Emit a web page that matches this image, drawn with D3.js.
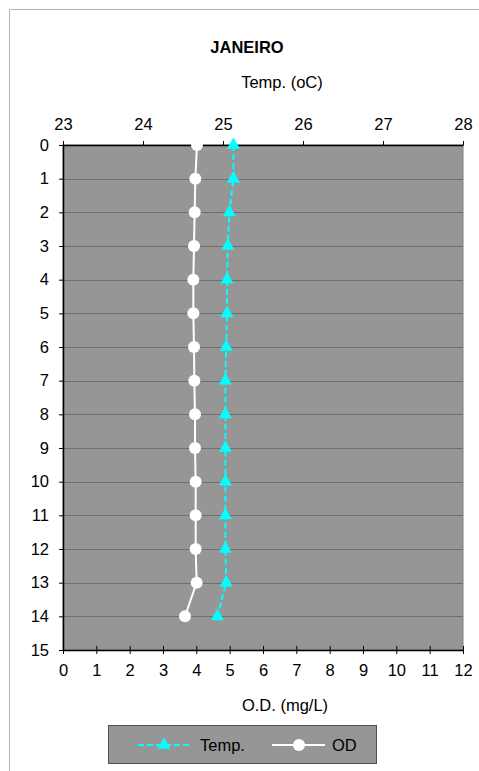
<!DOCTYPE html>
<html>
<head>
<meta charset="utf-8">
<script src="https://cdn.jsdelivr.net/npm/d3@7"></script>
<style>
  body { margin: 0; background: #fff; }
  text { font-family: "Liberation Sans", Arial, sans-serif; fill: #000; }
</style>
</head>
<body>
<div id="chart"></div>
<script>
"use strict";
// depth (m) on the vertical axis
const depths = [0, 1, 2, 3, 4, 5, 6, 7, 8, 9, 10, 11, 12, 13, 14];
const tempValues = [25.13, 25.13, 25.08, 25.06, 25.05, 25.05, 25.04, 25.03, 25.03, 25.03, 25.03, 25.03, 25.03, 25.04, 24.93];
const odValues = [4.02, 3.97, 3.95, 3.93, 3.91, 3.91, 3.93, 3.94, 3.96, 3.96, 3.98, 3.98, 3.98, 4.01, 3.66];
const tempTicks = [23, 24, 25, 26, 27, 28];
const odTicks = [0, 1, 2, 3, 4, 5, 6, 7, 8, 9, 10, 11, 12];
const depthTicks = [0, 1, 2, 3, 4, 5, 6, 7, 8, 9, 10, 11, 12, 13, 14, 15];

const width = 479, height = 771;
const plot = { left: 63, right: 463, top: 145, bottom: 650 };
const fontSize = 16.5;

const svg = d3.select("#chart")
    .append("svg")
    .attr("width", width)
    .attr("height", height);

// chart area border
svg.append("path")
    .attr("d", `M9.5,${height}V9.5H${width}`)
    .attr("fill", "none")
    .attr("stroke", "#b4b4b4");

var yScale = d3.scaleLinear().domain([0, 15]).range([plot.top, plot.bottom]);
var xTemp = d3.scaleLinear().domain([23, 28]).range([plot.left, plot.right]);
var xOd = d3.scaleLinear().domain([0, 12]).range([plot.left, plot.right]);

svg.append("rect")
    .attr("x", plot.left)
    .attr("y", plot.top)
    .attr("width", plot.right - plot.left)
    .attr("height", plot.bottom - plot.top)
    .attr("fill", "#969696")
    .attr("stroke", "#808080");

// horizontal grid
svg.append("g")
    .selectAll("line")
    .data(depthTicks.slice(1, -1))
    .enter()
    .append("line")
    .attr("x1", plot.left)
    .attr("x2", plot.right)
    .attr("y1", d => Math.round(yScale(d)) + 0.5)
    .attr("y2", d => Math.round(yScale(d)) + 0.5)
    .attr("stroke", "#6e6e6e")
    .attr("stroke-width", 1);

function styleAxis(g) {
    g.select(".domain").attr("stroke", "#000").attr("stroke-width", 1.5);
    g.selectAll(".tick line").attr("stroke", "#000");
    g.selectAll(".tick text")
        .attr("font-size", fontSize)
        .attr("font-family", "Liberation Sans, Arial, sans-serif");
}

// left axis (depth)
svg.append("g")
    .attr("transform", `translate(${plot.left},0)`)
    .call(d3.axisLeft(yScale).tickValues(depthTicks).tickFormat(d3.format("d"))
        .tickSize(4).tickPadding(10).tickSizeOuter(0))
    .call(styleAxis);

// top axis (temperature)
svg.append("g")
    .attr("transform", `translate(0,${plot.top})`)
    .call(d3.axisTop(xTemp).tickValues(tempTicks).tickFormat(d3.format("d"))
        .tickSize(4).tickPadding(11).tickSizeOuter(0))
    .call(styleAxis);

// bottom axis (O.D.)
var bottomAxis = svg.append("g")
    .attr("transform", `translate(0,${plot.bottom})`)
    .call(d3.axisBottom(xOd).tickValues(odTicks).tickFormat(d3.format("d"))
        .tickSize(4).tickPadding(10).tickSizeOuter(0))
    .call(styleAxis);
bottomAxis.selectAll(".tick line").attr("y1", -4);

// titles
svg.append("text")
    .attr("x", 247).attr("y", 53)
    .attr("text-anchor", "middle")
    .attr("font-size", fontSize)
    .attr("font-weight", "bold")
    .text("JANEIRO");
svg.append("text")
    .attr("x", 282).attr("y", 88)
    .attr("text-anchor", "middle")
    .attr("font-size", fontSize)
    .text("Temp. (oC)");
svg.append("text")
    .attr("x", 285).attr("y", 711)
    .attr("text-anchor", "middle")
    .attr("font-size", fontSize)
    .text("O.D. (mg/L)");

const tempData = depths.map((d, i) => ({ depth: d, value: tempValues[i] }));
const odData = depths.map((d, i) => ({ depth: d, value: odValues[i] }));

const triangle = d3.symbol().type(d3.symbolTriangle).size(75);

// OD line
svg.append("path")
    .datum(odData)
    .attr("fill", "none")
    .attr("stroke", "#fff")
    .attr("stroke-width", 2)
    .attr("d", d3.line().x(d => xOd(d.value)).y(d => yScale(d.depth)));
svg.append("g")
    .selectAll("circle")
    .data(odData)
    .enter()
    .append("circle")
    .attr("cx", d => xOd(d.value))
    .attr("cy", d => yScale(d.depth))
    .attr("r", 6)
    .attr("fill", "#fff");

// Temp line
svg.append("path")
    .datum(tempData)
    .attr("fill", "none")
    .attr("stroke", "#00ffff")
    .attr("stroke-width", 2)
    .attr("stroke-dasharray", "6,3")
    .attr("d", d3.line().x(d => xTemp(d.value)).y(d => yScale(d.depth)));
svg.append("g")
    .selectAll("path")
    .data(tempData)
    .enter()
    .append("path")
    .attr("d", triangle)
    .attr("transform", d => `translate(${xTemp(d.value)},${yScale(d.depth)})`)
    .attr("fill", "#00ffff");

// legend
var legend = svg.append("g");
legend.append("rect")
    .attr("x", 108.5).attr("y", 725.5)
    .attr("width", 268).attr("height", 38)
    .attr("fill", "#969696")
    .attr("stroke", "#505050");
legend.append("line")
    .attr("x1", 138).attr("x2", 189).attr("y1", 745).attr("y2", 745)
    .attr("stroke", "#00ffff").attr("stroke-width", 2).attr("stroke-dasharray", "6,3");
legend.append("path")
    .attr("d", triangle)
    .attr("transform", "translate(164,745)")
    .attr("fill", "#00ffff");
legend.append("text")
    .attr("x", 200).attr("y", 751)
    .attr("font-size", fontSize)
    .text("Temp.");
legend.append("line")
    .attr("x1", 272).attr("x2", 325).attr("y1", 745).attr("y2", 745)
    .attr("stroke", "#fff").attr("stroke-width", 2);
legend.append("circle")
    .attr("cx", 299).attr("cy", 745).attr("r", 6).attr("fill", "#fff");
legend.append("text")
    .attr("x", 332).attr("y", 751)
    .attr("font-size", fontSize)
    .text("OD");
</script>
</body>
</html>
